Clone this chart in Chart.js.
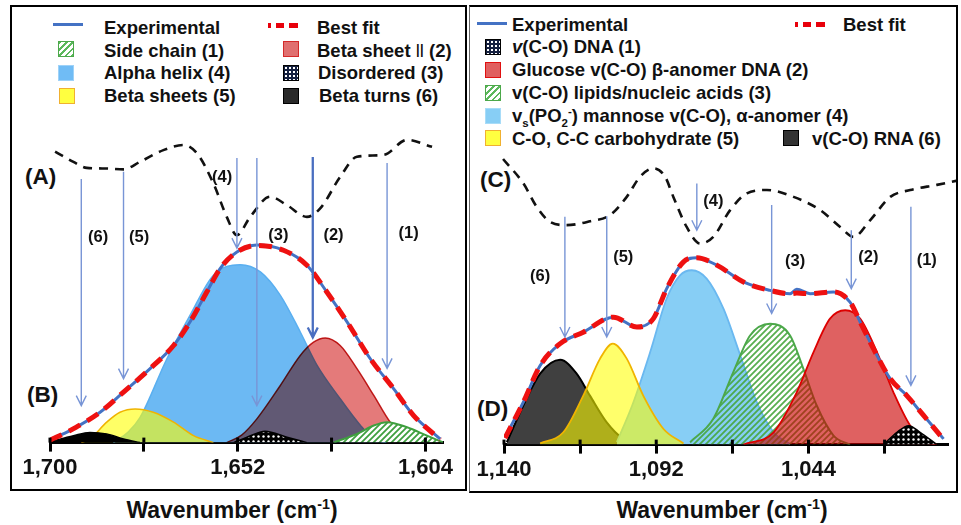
<!DOCTYPE html>
<html>
<head>
<meta charset="utf-8">
<script src="https://cdn.jsdelivr.net/npm/chart.js@4.4.0/dist/chart.umd.min.js"></script>
<style>
body { margin: 0; background: #fff; }
#page { position: relative; width: 961px; height: 525px; overflow: hidden; font-family: "Liberation Sans", Arial, sans-serif; font-weight: bold; color: #111; }
.box { position: absolute; border: 2px solid #000; box-sizing: border-box; }
.txt { position: absolute; white-space: nowrap; font-size: 18.5px; line-height: 20px; height: 20px; }
.sw { position: absolute; width: 16px; height: 16px; box-sizing: border-box; border: 1.5px solid #000; }
.ln { position: absolute; width: 30px; height: 3px; background: #4472c4; }
.dash { position: absolute; width: 30px; height: 5px; background: repeating-linear-gradient(90deg, #e8000b 0 8px, transparent 8px 13px); background-position: -5px 0; }
.tag { position: absolute; font-size: 22.5px; line-height: 26px; }
.title { position: absolute; width: 400px; text-align: center; font-size: 23px; line-height: 30px; }
sup, sub { font-size: 62%; line-height: 0; }
canvas { position: absolute; }
.hatch { background: repeating-linear-gradient(135deg, #5cb85c 0 2px, #fff 2px 4.5px); border-color: #4ca84a; }
.dots { background-color: #142040; background-image: radial-gradient(circle, #fff 0.9px, transparent 1.4px); background-size: 4px 4px; }
</style>
</head>
<body>
<div id="page">
  <div class="box" style="left:10px;top:5px;width:457px;height:486px;"></div>
  <div class="box" style="left:469px;top:5px;width:489px;height:488px;border-left:1.5px solid #666;"></div>

  <!-- left legend -->
  <div class="ln" style="left:53px;top:22.5px;"></div>
  <div class="txt" style="left:104px;top:17.7px;">Experimental</div>
  <div class="dash" style="left:268px;top:22.5px;"></div>
  <div class="txt" style="left:317px;top:17.7px;">Best fit</div>
  <div class="sw hatch" style="left:58px;top:41px;"></div>
  <div class="txt" style="left:104px;top:40.5px;">Side chain (1)</div>
  <div class="sw" style="left:283px;top:41px;background:#e07070;border-color:#d42a2a;"></div>
  <div class="txt" style="left:317px;top:40.5px;">Beta sheet <span style="font-weight:normal">ll</span> (2)</div>
  <div class="sw" style="left:58px;top:65px;background:#70bcf5;border-color:#9ed2f8;"></div>
  <div class="txt" style="left:104px;top:63.3px;">Alpha helix (4)</div>
  <div class="sw dots" style="left:283px;top:65px;"></div>
  <div class="txt" style="left:318px;top:63.3px;">Disordered (3)</div>
  <div class="sw" style="left:59px;top:88px;background:#ffff40;border-color:#f0b030;"></div>
  <div class="txt" style="left:104px;top:86.1px;">Beta sheets (5)</div>
  <div class="sw" style="left:283px;top:88px;background:#2a2a2a;"></div>
  <div class="txt" style="left:319px;top:86.1px;">Beta turns (6)</div>

  <!-- right legend -->
  <div class="ln" style="left:477px;top:21.5px;"></div>
  <div class="txt" style="left:512px;top:14.5px;">Experimental</div>
  <div class="dash" style="left:795px;top:21.5px;"></div>
  <div class="txt" style="left:843px;top:14.5px;">Best fit</div>
  <div class="sw dots" style="left:485px;top:39px;"></div>
  <div class="txt" style="left:512px;top:37.3px;"><i>v</i>(C-O) DNA (1)</div>
  <div class="sw" style="left:485px;top:62px;background:#e06060;border-color:#e01010;"></div>
  <div class="txt" style="left:512px;top:60.1px;">Glucose v(C-O) β-anomer DNA (2)</div>
  <div class="sw hatch" style="left:485px;top:85px;"></div>
  <div class="txt" style="left:512px;top:82.9px;">v(C-O) lipids/nucleic acids (3)</div>
  <div class="sw" style="left:485px;top:108px;background:#87cef5;border-color:#a8dcf8;"></div>
  <div class="txt" style="left:512px;top:105.7px;">v<sub>s</sub>(PO<sub>2</sub><sup>-</sup>) mannose v(C-O), α-anomer (4)</div>
  <div class="sw" style="left:485px;top:130px;background:#ffff40;border-color:#f0b030;"></div>
  <div class="txt" style="left:512px;top:128.5px;">C-O, C-C carbohydrate (5)</div>
  <div class="sw" style="left:783px;top:130px;background:#333;"></div>
  <div class="txt" style="left:812px;top:128.5px;">v(C-O) RNA (6)</div>

  <div class="tag" style="left:25px;top:164px;">(A)</div>
  <div class="tag" style="left:27px;top:382px;">(B)</div>
  <div class="tag" style="left:480px;top:167px;">(C)</div>
  <div class="tag" style="left:477px;top:396px;">(D)</div>

  <canvas id="left" width="452" height="368" style="left:12px;top:120px;"></canvas>
  <canvas id="right" width="484" height="352" style="left:472px;top:138px;"></canvas>

  <div class="title" style="left:32px;top:495px;">Wavenumber (cm<sup>-1</sup>)</div>
  <div class="title" style="left:522px;top:495px;">Wavenumber (cm<sup>-1</sup>)</div>
</div>
<script>
// ---- panel B (amide I), [wavenumber, intensity] ----
const ticksL = [1700, 1676, 1652, 1628, 1604];
const tickLabelsL = ['1,700', '', '1,652', '', '1,604'];
const expL = [[1700, 1.0], [1694.9, 4], [1687.2, 10.1], [1681.2, 16.8], [1674.4, 24.6], [1668.4, 32.3], [1664.2, 40.1], [1659.9, 50.1], [1656.5, 57.9], [1652.2, 63.4], [1647.1, 65.7], [1640.3, 64], [1634.3, 59], [1629.2, 50.1], [1624, 40.1], [1618.1, 27.9], [1612.1, 17.9], [1607, 9], [1600.2, 1.2]];
const fitL = [[1700, 0.8], [1694.9, 4], [1687.2, 10.1], [1681.2, 16.8], [1674.4, 24.6], [1668.4, 32.3], [1664.2, 40.1], [1659.9, 50.1], [1656.5, 57.9], [1652.2, 63.4], [1647.1, 65.6], [1640.3, 64], [1634.3, 59], [1629.2, 50.1], [1624, 40.1], [1618.1, 27.9], [1612.1, 17.9], [1607, 9], [1600.2, 1.0]];
const sideL = [[1627.5, 0], [1621.5, 2.9], [1617.2, 5.7], [1613.8, 6.8], [1608.7, 5.1], [1603.6, 2.3], [1599.3, 0]];
const sheetIIL = [[1654.8, 0], [1651, 2.5], [1647.1, 7.9], [1641.1, 19], [1636, 29], [1632.6, 33.4], [1629.6, 34.8], [1625.8, 32.3], [1621.5, 24.6], [1617.2, 15.7], [1613, 6.8], [1608.7, 1.2], [1604, 0]];
const disorderL = [[1653, 0], [1649.6, 1.8], [1645, 3.8], [1639.4, 1.8], [1634.3, 0]];
const helixL = [[1683.8, 0], [1680, 3.5], [1677, 8.3], [1670.1, 27.9], [1664.2, 42.3], [1658.2, 55.7], [1651.4, 59.2], [1646.2, 56.8], [1641.1, 49], [1636, 36.8], [1631.7, 25.7], [1625.8, 14.6], [1620.6, 5.7], [1617.2, 1.2], [1614, 0]];
const sheetsL = [[1692, 0], [1689.8, 1.2], [1685.5, 6.8], [1682.1, 10.1], [1678.2, 11.2], [1673.6, 10.1], [1668.4, 6.8], [1663.3, 2.3], [1658.2, 0]];
const turnsL = [[1700, 0.3], [1694, 2.3], [1689.8, 3.4], [1685.5, 2.9], [1681.2, 1.2], [1677, 0]];
const deriv2L = [[1698.7, 96.8], [1694, 93.4], [1690.6, 91.4], [1685.5, 91.2], [1681.2, 90.9], [1677, 93.4], [1671, 97.3], [1665.9, 99], [1662.4, 96.2], [1658.2, 86.2], [1654.8, 75.1], [1652.2, 69], [1648.8, 75.1], [1643.7, 81.8], [1639.4, 79], [1634.3, 75.1], [1630.9, 77.9], [1625.8, 88.4], [1621.5, 95.1], [1614.7, 95.7], [1608.7, 100.7], [1602.3, 98.4]];
// arrows (1)..(6): [wavenumber, start, tip]
const arrowsL = [[1613.8, 93, 24.7], [1632.8, 95, 35], [1647.1, 94.7, 12.3], [1652.2, 94.7, 64.7], [1681.2, 90.1, 21.3], [1692, 87.7, 12.3]];
const labelsL = [[1608.3, 69.7, '(1)'], [1627.5, 69, '(2)'], [1641.6, 69, '(3)'], [1656, 88.3, '(4)'], [1677.2, 68.3, '(5)'], [1687.7, 68.3, '(6)']];

// ---- panel D (carbohydrate region) ----
const ticksR = [1140, 1116, 1092, 1068, 1044, 1020];
const tickLabelsR = ['1,140', '', '1,092', '', '1,044', ''];
const expR = [[1139.7, 2.4], [1133.9, 14.1], [1128.6, 26.3], [1122.3, 33.6], [1115, 37.4], [1105.5, 42.4], [1098.1, 39.1], [1092.9, 41.9], [1088.7, 51.9], [1083.4, 60.8], [1079.2, 62.2], [1072.9, 59.7], [1064.5, 54.1], [1056.1, 51.3], [1049.8, 50.2], [1047.7, 51.7], [1043.5, 50.2], [1036.1, 50.8], [1030.9, 47.4], [1027.7, 40.8], [1023.5, 31.9], [1018.2, 21.9], [1013, 16.3], [1007.7, 9.7], [1001.4, 1.9]];
const fitR = [[1139.7, 2.2], [1133.9, 14.1], [1128.6, 26.3], [1122.3, 33.6], [1115, 37.4], [1105.5, 42.4], [1098.1, 39.1], [1092.9, 41.9], [1088.7, 51.9], [1083.4, 60.8], [1079.2, 62.2], [1072.9, 59.7], [1064.5, 54.1], [1056.1, 51.3], [1049.8, 50.2], [1047.7, 50.4], [1043.5, 50.2], [1036.1, 50.8], [1030.9, 47.4], [1027.7, 40.8], [1023.5, 31.9], [1018.2, 21.9], [1013, 16.3], [1007.7, 9.7], [1001.4, 1.7]];
const dnaR = [[1020.3, 0], [1016.1, 4.1], [1012.4, 6.3], [1008.8, 4.1], [1003.5, 0]];
const glucR = [[1064.5, 0], [1055, 4.1], [1047.7, 17.4], [1042.4, 30.8], [1037.2, 41.9], [1032.4, 44.7], [1027.7, 41.9], [1022.4, 30.8], [1017.2, 17.4], [1011.9, 6.3], [1006.7, 0.8], [1003.5, 0]];
const lipidR = [[1081.3, 0.8], [1074, 8.6], [1067.7, 24.1], [1062.4, 36.3], [1056.1, 40.2], [1049.8, 36.3], [1045.6, 25.2], [1041.4, 13], [1036.1, 3], [1030.9, 0]];
const mannoseR = [[1104.4, 0.8], [1099.2, 14.1], [1093.9, 30.8], [1088.7, 48.6], [1084.5, 56.3], [1080.8, 58], [1076.1, 55.2], [1070.8, 45.2], [1065.5, 29.7], [1060.3, 14.1], [1055, 4.1], [1049.8, 0.2]];
const carbR = [[1128.6, 0.4], [1121.3, 4.1], [1115, 16.3], [1109.7, 28.6], [1105.7, 33.6], [1101.3, 28.6], [1096.1, 16.3], [1089.7, 5.2], [1083.4, 0.4]];
const rnaR = [[1139.1, 0.8], [1133.9, 13], [1128.6, 23.6], [1122.3, 28.2], [1117.1, 23.6], [1112.9, 16.3], [1107.6, 7.4], [1102.4, 1.9], [1098.1, 0.2]];
const deriv2R = [[1140.3, 95], [1133.9, 86.9], [1129.7, 79.1], [1125.5, 74.1], [1120.2, 73], [1112.9, 74.3], [1106.6, 76.3], [1101.3, 82.4], [1097.1, 89.1], [1092.9, 91.9], [1089.2, 89.1], [1086.6, 82.4], [1082.4, 72.4], [1078.2, 66.9], [1074, 69.1], [1068.7, 78], [1063.4, 83.6], [1057.1, 84.7], [1048.7, 82.4], [1040.3, 78], [1034, 72.4], [1029.8, 69.1], [1024.5, 74.7], [1018.2, 82.4], [1011.9, 84.7], [1003.5, 86.4], [997.2, 87.8]];
const arrowsR = [[1011.7, 79.1, 19.7], [1030.5, 71.3, 51.9], [1055.6, 79.7, 43.6], [1079.2, 86.9, 71.3], [1107.6, 76, 35.8], [1120.8, 75.8, 35.8]];
const labelsR = [[1006.7, 61.3, '(1)'], [1025.1, 62.4, '(2)'], [1048.2, 60.8, '(3)'], [1074, 80.8, '(4)'], [1102.4, 62.4, '(5)'], [1128.6, 55.8, '(6)']];

function pts(a) { return a.map(p => ({ x: p[0], y: p[1] })); }

function hatch(bg, color) {
    const c = document.createElement('canvas');
    c.width = 6; c.height = 6;
    const g = c.getContext('2d');
    if (bg) { g.fillStyle = bg; g.fillRect(0, 0, 6, 6); }
    g.strokeStyle = color; g.lineWidth = 1.8;
    g.beginPath();
    g.moveTo(-1, 7); g.lineTo(7, -1);
    g.moveTo(-1, 1); g.lineTo(1, -1);
    g.moveTo(5, 7); g.lineTo(7, 5);
    g.stroke();
    return g.createPattern(c, 'repeat');
}

function dots() {
    const c = document.createElement('canvas');
    c.width = 5; c.height = 5;
    const g = c.getContext('2d');
    g.fillStyle = '#000'; g.fillRect(0, 0, 5, 5);
    g.fillStyle = '#fff';
    g.beginPath(); g.arc(1.5, 1.5, 1.2, 0, Math.PI * 2); g.fill();
    return g.createPattern(c, 'repeat');
}

function band(data, bg, border, width, extra) {
    return Object.assign({
        data: pts(data), backgroundColor: bg, borderColor: border, borderWidth: width,
        fill: 'origin', pointRadius: 0, cubicInterpolationMode: 'monotone'
    }, extra || {});
}

// index 0 ends up on top
function traces(exp, fit, d2) {
    return [
        { data: pts(fit), borderColor: '#ee1111', borderWidth: 5, borderDash: [13, 8], fill: false, pointRadius: 0, cubicInterpolationMode: 'monotone' },
        { data: pts(exp), borderColor: '#4472c4', borderWidth: 3, fill: false, pointRadius: 0, cubicInterpolationMode: 'monotone' },
        { data: pts(d2), borderColor: '#111', borderWidth: 2.6, borderDash: [9, 7], fill: false, pointRadius: 0, cubicInterpolationMode: 'monotone', clip: false }
    ];
}

// datasets are drawn last-index-first, so next one drawn is index-1
function setBlend(chart, i) {
    const ds = chart.data.datasets[i];
    chart.ctx.globalCompositeOperation = (ds && ds.blend) || 'source-over';
}
const blendPlugin = {
    id: 'blend',
    beforeDatasetsDraw(chart) { setBlend(chart, chart.data.datasets.length - 1); },
    afterDatasetDraw(chart, args) { setBlend(chart, args.index - 1); },
    afterDatasetsDraw(chart) { chart.ctx.globalCompositeOperation = 'source-over'; }
};

function overlay(cfg) {
    return {
        id: 'overlay',
        afterDraw(chart) {
            const ctx = chart.ctx, xs = chart.scales.x, ys = chart.scales.y;
            ctx.save();
            ctx.strokeStyle = '#000'; ctx.lineWidth = 3;
            cfg.ticks.forEach(t => {
                const x = xs.getPixelForValue(t);
                ctx.beginPath(); ctx.moveTo(x, ys.bottom); ctx.lineTo(x, ys.bottom - 5); ctx.stroke();
            });
            cfg.arrows.forEach((a, i) => {
                const x = xs.getPixelForValue(a[0]), y1 = ys.getPixelForValue(a[1]), y2 = ys.getPixelForValue(a[2]);
                const bold = cfg.boldArrow === i;
                ctx.strokeStyle = bold ? '#4a6fc0' : '#7895d6';
                ctx.lineWidth = bold ? 2.3 : 1.4;
                ctx.beginPath();
                ctx.moveTo(x, y1); ctx.lineTo(x, y2);
                ctx.moveTo(x - 5, y2 - 10); ctx.lineTo(x, y2); ctx.lineTo(x + 5, y2 - 10);
                ctx.stroke();
            });
            ctx.fillStyle = '#111'; ctx.textAlign = 'center'; ctx.textBaseline = 'middle';
            ctx.font = 'bold 16.5px "Liberation Sans", Arial';
            cfg.labels.forEach(l => ctx.fillText(l[2], xs.getPixelForValue(l[0]), ys.getPixelForValue(l[1])));
            ctx.restore();
        }
    };
}

function makeChart(id, cfg) {
    return new Chart(document.getElementById(id), {
        type: 'line',
        data: { datasets: cfg.datasets },
        options: {
            responsive: false,
            animation: false,
            layout: { padding: cfg.padding },
            plugins: { legend: { display: false }, tooltip: { enabled: false } },
            scales: {
                x: {
                    type: 'linear', reverse: true, min: cfg.xmin, max: cfg.xmax,
                    afterBuildTicks: s => { s.ticks = cfg.ticks.map(v => ({ value: v })); },
                    ticks: {
                        autoSkip: false, maxRotation: 0, padding: 3, color: '#111',
                        font: { family: '"Liberation Sans", Arial', size: 22, weight: 'bold' },
                        callback: (v, i) => cfg.tickLabels[i]
                    },
                    grid: { display: true, drawOnChartArea: false, drawTicks: true, tickLength: 9, tickColor: '#000', tickWidth: 3 },
                    border: { display: true, color: '#000', width: 3 }
                },
                y: { display: false, min: 0, max: cfg.ymax }
            }
        },
        plugins: [blendPlugin, overlay(cfg)]
    });
}

// datasets listed top-most first
makeChart('left', {
    xmin: 1599.5, xmax: 1700, ymax: 105,
    padding: { left: 38, right: 21, top: 7, bottom: 4 },
    ticks: ticksL, tickLabels: tickLabelsL,
    arrows: arrowsL, labels: labelsL, boldArrow: 1,
    datasets: traces(expL, fitL, deriv2L).concat([
        band(sideL, hatch('#fff', '#3f9f3f'), '#3f9f3f', 2),
        band(disorderL, dots(), '#000', 1.5),
        band(turnsL, '#000', '#000', 1.5),
        band(sheetIIL, '#e47a7a', '#c81e1e', 1.5, { blend: 'multiply' }),
        band(sheetsL, 'rgba(255,255,0,0.6)', '#f0b400', 1.5),
        band(helixL, '#6cb9f3', '#5aaff0', 1.5)
    ])
});

makeChart('right', {
    xmin: 1000, xmax: 1140, ymax: 100,
    padding: { left: 32, right: 8, top: 6, bottom: 4 },
    ticks: ticksR, tickLabels: tickLabelsR,
    arrows: arrowsR, labels: labelsR, boldArrow: -1,
    datasets: traces(expR, fitR, deriv2R).concat([
        band(dnaR, dots(), '#000', 1.5),
        band(glucR, 'rgba(203,0,0,0.62)', '#dd0000', 1.8),
        band(lipidR, hatch(null, 'rgba(70,165,60,0.9)'), '#4ca84a', 2),
        band(carbR, 'rgba(255,255,0,0.58)', '#f0b400', 1.8),
        band(mannoseR, '#87cef5', '#6ab8f0', 1.8),
        band(rnaR, '#404040', '#000', 2)
    ])
});
</script>
</body>
</html>
